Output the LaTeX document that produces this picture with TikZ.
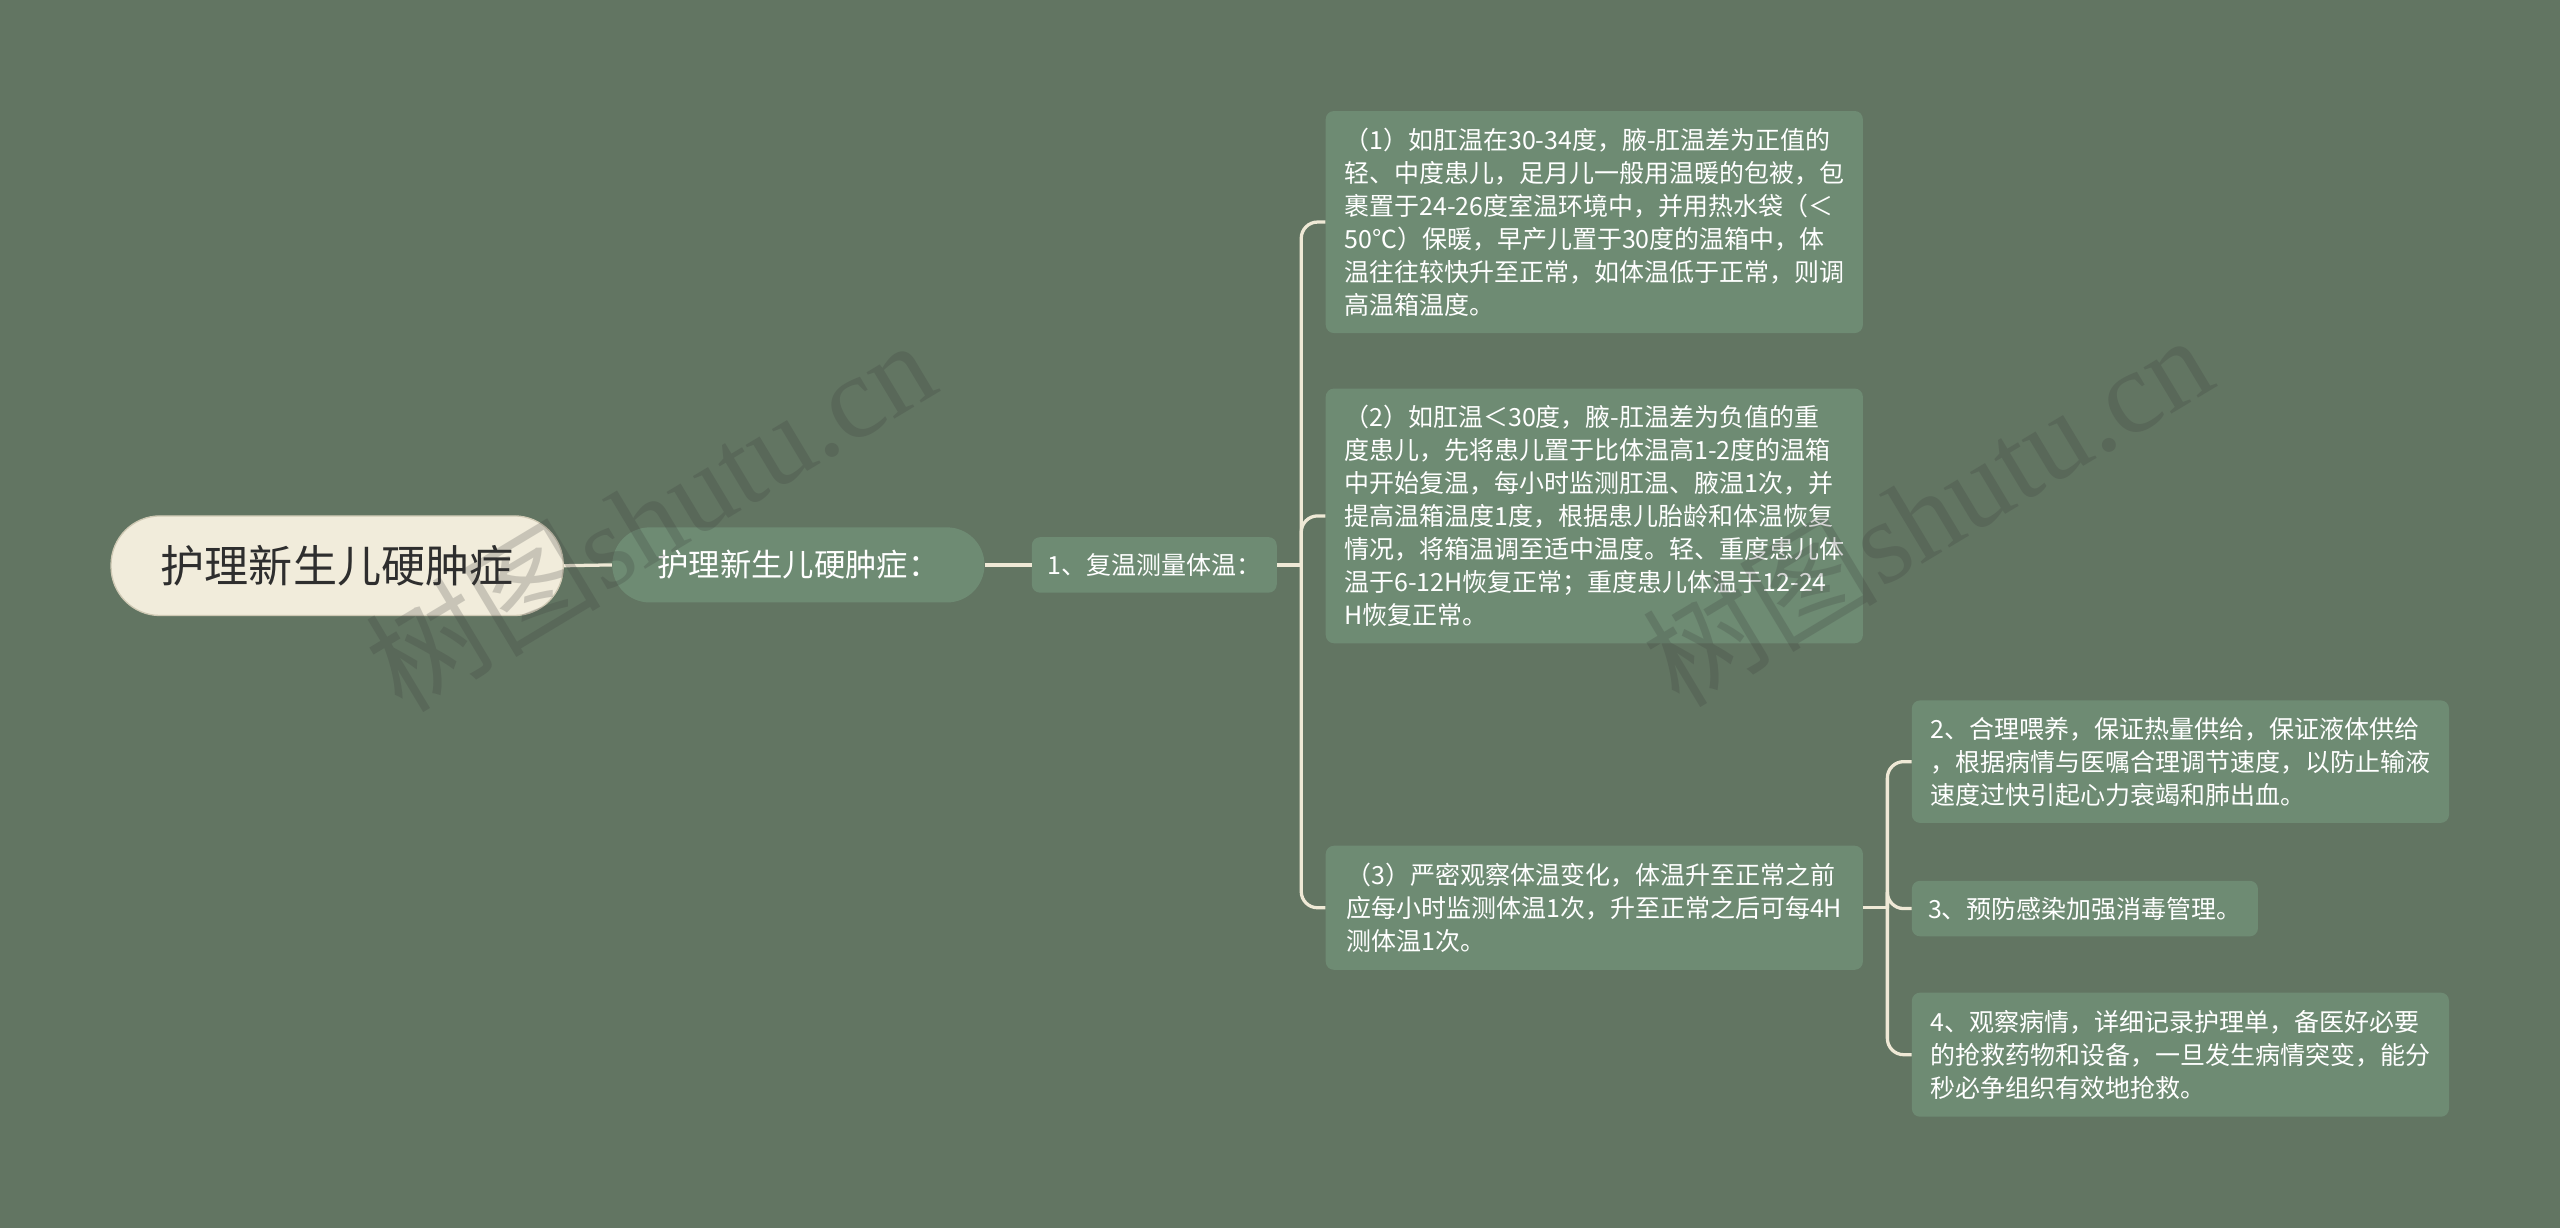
\documentclass[tikz,border=0pt]{standalone}
\usepackage{fontspec}
\setmainfont{Noto Sans CJK SC}
\newfontfamily\wmfont{Liberation Serif}
\definecolor{bgc}{HTML}{627562}
\definecolor{boxc}{HTML}{6E8B73}
\definecolor{rootc}{HTML}{F1ECDB}
\definecolor{rootedge}{HTML}{CFC9B4}
\definecolor{linec}{HTML}{EFE9D6}
\definecolor{roottext}{HTML}{2E2E2E}
\definecolor{wmc}{HTML}{3A3A3A}
\tikzset{
  leaf/.style={fill=boxc, rounded corners=5pt, text=white, font=\fontsize{15.3}{20.2}\selectfont, align=left, inner sep=0pt, minimum width=329pt},
  rootbox/.style={fill=rootc, draw=rootedge, line width=0.8pt, rounded corners=30pt, minimum width=277pt, minimum height=61pt, inner sep=0pt, text=roottext, font=\fontsize{27}{30}\selectfont},
  midbox/.style={fill=boxc, rounded corners=23pt, minimum width=228pt, minimum height=46pt, inner sep=0pt, text=white, font=\fontsize{19.2}{22}\selectfont},
  subbox/.style={fill=boxc, rounded corners=5pt, minimum width=150pt, minimum height=34pt, inner sep=0pt, text=white, font=\fontsize{15.3}{18}\selectfont},
  conn/.style={draw=linec, line width=2pt},
  branch/.style={conn, rounded corners=10pt},
  wmark/.style={rotate=31, text=wmc, opacity=0.22, font=\fontsize{72}{72}\selectfont}
}
\begin{document}
\begin{tikzpicture}[x=1pt,y=-1pt]
\useasboundingbox (0,0) rectangle (1568,752);
\fill[bgc] (0,0) rectangle (1568,752);

\node[rootbox] (root) at (206.5,346.5) {护理新生儿硬肿症};
\node[midbox] (mid) at (489,346) {护理新生儿硬肿症：};
\node[subbox] (sub) at (707,346) {1、复温测量体温：};

\node[leaf, minimum height=136pt] (b1) at (976.5,136) {（1）如肛温在30-34度，腋-肛温差为正值的\\轻、中度患儿，足月儿一般用温暖的包被，包\\裹置于24-26度室温环境中，并用热水袋（＜\\50℃）保暖，早产儿置于30度的温箱中，体\\温往往较快升至正常，如体温低于正常，则调\\高温箱温度。};
\node[leaf, minimum height=156pt] (b2) at (976.5,316) {（2）如肛温＜30度，腋-肛温差为负值的重\\度患儿，先将患儿置于比体温高1-2度的温箱\\中开始复温，每小时监测肛温、腋温1次，并\\提高温箱温度1度，根据患儿胎龄和体温恢复\\情况，将箱温调至适中温度。轻、重度患儿体\\温于6-12H恢复正常；重度患儿体温于12-24\\H恢复正常。};
\node[leaf, minimum height=76pt] (b3) at (976.5,556) {（3）严密观察体温变化，体温升至正常之前\\应每小时监测体温1次，升至正常之后可每4H\\测体温1次。};

\node[leaf, minimum height=75pt] (c2) at (1335.5,466.5) {2、合理喂养，保证热量供给，保证液体供给\\，根据病情与医嘱合理调节速度，以防止输液\\速度过快引起心力衰竭和肺出血。};
\node[leaf, minimum height=34pt, minimum width=212pt] (c3) at (1277,556.5) {3、预防感染加强消毒管理。};
\node[leaf, minimum height=76pt] (c4) at (1335.5,646) {4、观察病情，详细记录护理单，备医好必要\\的抢救药物和设备，一旦发生病情突变，能分\\秒必争组织有效地抢救。};

\draw[conn] (root.east) -- (mid.west);
\draw[conn] (mid.east) -- (sub.west);
\coordinate (t1) at (797,346);
\draw[conn] (sub.east) -- (t1);
\draw[branch] (t1) |- (b1.west);
\draw[branch] (t1) |- (b2.west);
\draw[branch] (t1) |- (b3.west);
\coordinate (t2) at (1156,556);
\draw[conn] (b3.east) -- (t2);
\draw[branch] (t2) |- (c2.west);
\draw[branch] (t2) |- (c3.west);
\draw[branch] (t2) |- (c4.west);

\node[wmark] (wm1) at (398,315) {树图{\wmfont shutu.cn}};
\node[wmark] (wm2) at (1180,312) {树图{\wmfont shutu.cn}};
\end{tikzpicture}
\end{document}
